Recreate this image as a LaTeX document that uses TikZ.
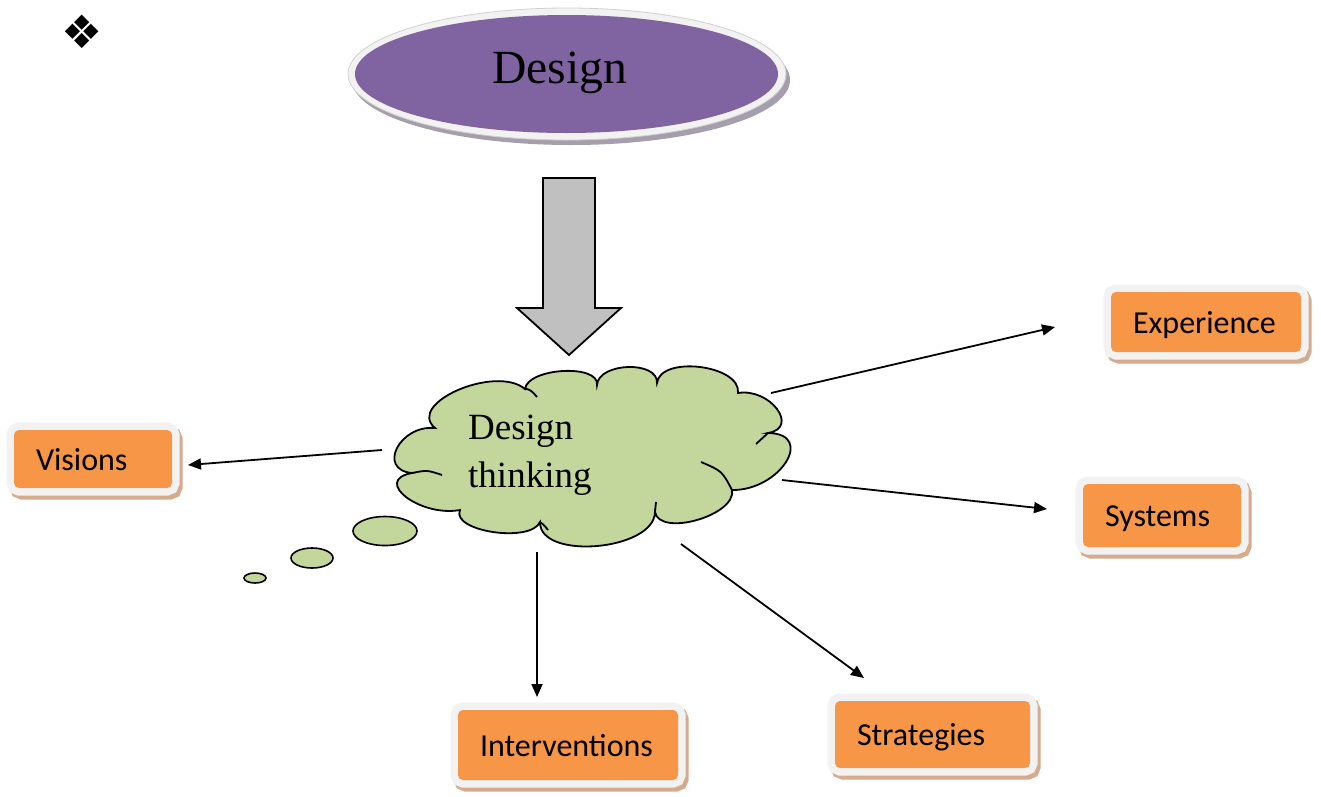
\documentclass[tikz,border=0pt]{standalone}
\usepackage{fontspec}
\setmainfont{Liberation Serif}
\newfontfamily\boxfont{Carlito}
\newfontfamily\symfont{DejaVu Sans}
\usetikzlibrary{shapes.geometric,arrows.meta,calc}
\definecolor{dpurple}{HTML}{8064A2}
\definecolor{ellshadow}{RGB}{165,158,172}
\definecolor{rimwhite}{HTML}{F2F2F2}
\definecolor{rimgray}{HTML}{D0D0D0}
\definecolor{arrowgray}{HTML}{C0C0C0}
\definecolor{cloudgreen}{HTML}{C3D69B}
\definecolor{boxorange}{HTML}{F79646}
\definecolor{boxshadow}{RGB}{214,170,140}
\definecolor{boxframe}{HTML}{F2F2F2}
\newcommand\lobe[3]{.. controls ($1/3*(#1)+4/3*(#2)-2/3*(#3)$) and ($1/3*(#3)+4/3*(#2)-2/3*(#1)$) .. (#3)}
\tikzset{
 tagbox/.style={rectangle, rounded corners=5pt, fill=boxorange, inner xsep=22pt, inner ysep=0pt,
   align=left, text height=29pt, text depth=7pt, font=\boxfont\fontsize{32}{38}\selectfont,
   preaction={draw=boxshadow, line width=15pt, transform canvas={shift={(3pt,-4pt)}}},
   preaction={draw=boxframe, line width=15pt}},
 conn/.style={line width=1.8pt, -{Triangle[length=13pt,width=11pt]}},
 outline/.style={line width=1.8pt, draw=black},
}
\begin{document}
\begin{tikzpicture}[x=1pt,y=-1pt]
\useasboundingbox (0,0) rectangle (1321,796);
% bullet symbol
\node[font=\symfont\fontsize{46}{54}\selectfont, inner sep=0] (bullet) at (82,32) {❖};
% Design ellipse
\fill[ellshadow] (571,80) ellipse [x radius=219, y radius=65];
\filldraw[fill=rimwhite, draw=rimgray, line width=0.8pt] (567,74) ellipse [x radius=219, y radius=66];
\node[ellipse, fill=dpurple, minimum width=423pt, minimum height=118pt, inner sep=0] (design) at (566.5,74) {};
\node[font=\fontsize{47.6}{57}\selectfont, anchor=base, inner sep=0] (designtxt) at (559.5,83) {Design};
% block arrow
\draw[fill=arrowgray, outline, line join=miter] (543,178) -- (595,178) -- (595,308) -- (621,308) -- (569,355) -- (517,308) -- (543,308) -- cycle;
% cloud
\draw[fill=cloudgreen, outline] (435,428)
  \lobe{435,428}{458,390}{525,389}
  \lobe{525,389}{563,371}{597,385}
  \lobe{597,385}{628,367}{657,383}
  \lobe{657,383}{700,367}{738,393}
  \lobe{738,393}{777,409}{768,433}
  \lobe{768,433}{786,462}{732,490}
  \lobe{732,490}{697,520}{655,512}
  \lobe{655,512}{597,546}{540,522}
  \lobe{540,522}{493,532}{460,510}
  \lobe{460,510}{406,497}{412,473}
  \lobe{412,473}{397,448}{435,428}
  -- cycle;
\draw[outline] (412,473) .. controls (427,470) .. (442,475);
\draw[outline] (523,388) .. controls (531,390) .. (537,397);
\draw[outline] (732,490) .. controls (722,471) .. (701,462);
\draw[outline] (768,433) .. controls (762,438) .. (756,444);
\draw[outline] (655,512) .. controls (656,507) .. (656,502);
\draw[outline] (540,522) .. controls (544,525) .. (548,530);
\coordinate (cloud) at (590,455);
\node[font=\fontsize{37}{44}\selectfont, anchor=base west, inner sep=0] (dt1) at (468,439) {Design};
\node[font=\fontsize{37}{44}\selectfont, anchor=base west, inner sep=0] (dt2) at (468,487) {thinking};
% thought bubbles
\draw[fill=cloudgreen, line width=1.6pt] (385,531) ellipse [x radius=32, y radius=14.5];
\draw[fill=cloudgreen, line width=1.6pt] (312,558) ellipse [x radius=21, y radius=10];
\draw[fill=cloudgreen, line width=1.6pt] (255,578) ellipse [x radius=11, y radius=5];
% boxes
\node[tagbox, minimum width=158pt, minimum height=58pt, text width=114pt] (visions) at (93,459) {Visions};
\node[tagbox, minimum width=190pt, minimum height=60pt, text width=146pt] (experience) at (1206,322) {Experience};
\node[tagbox, minimum width=158pt, minimum height=63pt, text width=114pt] (systems) at (1162,515.5) {Systems};
\node[tagbox, minimum width=220pt, minimum height=70pt, text width=176pt] (interventions) at (568,745) {\mbox{Interventions}};
\node[tagbox, minimum width=195pt, minimum height=67pt, text width=151pt] (strategies) at (932.5,734.5) {Strategies};
% connectors
\coordinate (vS) at (382,450); \coordinate (vE) at (188,465);
\coordinate (eS) at (771,393); \coordinate (eE) at (1055,327);
\coordinate (sS) at (782,480); \coordinate (sE) at (1047,509);
\coordinate (iS) at (537,552); \coordinate (iE) at (537,697);
\coordinate (tS) at (681,544); \coordinate (tE) at (864,678);
\draw[conn] (vS) -- (vE);
\draw[conn] (eS) -- (eE);
\draw[conn] (sS) -- (sE);
\draw[conn] (iS) -- (iE);
\draw[conn] (tS) -- (tE);
\end{tikzpicture}
\end{document}
